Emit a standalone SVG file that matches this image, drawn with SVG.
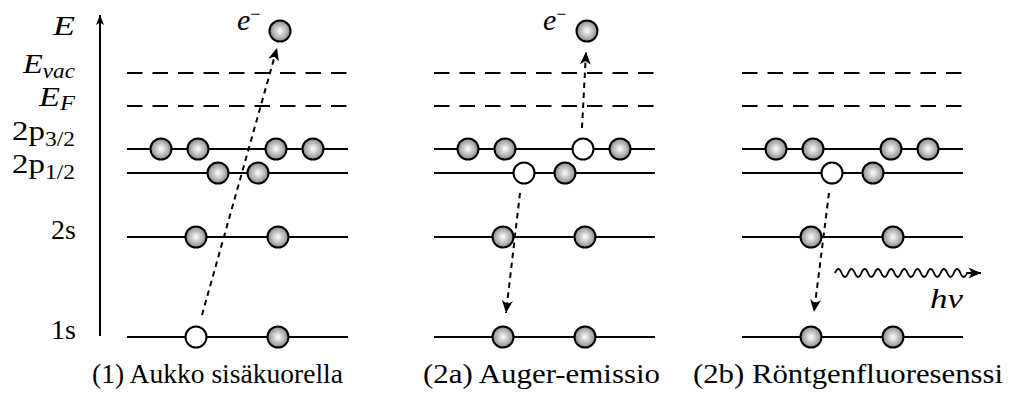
<svg xmlns="http://www.w3.org/2000/svg" width="1009" height="398" viewBox="0 0 1009 398">
  <defs>
    <radialGradient id="ball" cx="50%" cy="50%" r="50%">
      <stop offset="0" stop-color="#ffffff"/>
      <stop offset="1" stop-color="#8a8a8a"/>
    </radialGradient>
    <marker id="head" viewBox="-13 -6 14 12" refX="0" refY="0" markerWidth="14" markerHeight="12" markerUnits="userSpaceOnUse" orient="auto">
      <path d="M0,0 L-12.5,-5.5 L-9,0 L-12.5,5.5 Z" fill="#000"/>
    </marker>
    <marker id="axhead" viewBox="-11 -5 12 10" refX="0" refY="0" markerWidth="12" markerHeight="10" markerUnits="userSpaceOnUse" orient="auto">
      <path d="M0,0 L-10,-4 L-7.5,0 L-10,4 Z" fill="#000"/>
    </marker>
    <style>
      .lvl { stroke: #000; stroke-width: 2; fill: none; }
      .dash { stroke: #000; stroke-width: 2; fill: none; stroke-dasharray: 15.5 10; }
      .el { fill: url(#ball); stroke: #000; stroke-width: 2; }
      .hole { fill: #fff; stroke: #000; stroke-width: 2; }
      .move { stroke: #000; stroke-width: 2; fill: none; stroke-dasharray: 5.5 4.5; marker-end: url(#head); }
      .wave { stroke: #000; stroke-width: 1.8; fill: none; marker-end: url(#head); }
    </style>
  </defs>

  <g font-family="Liberation Serif, DejaVu Serif, serif" font-size="27" fill="#000">
  <!-- energy axis and level labels -->
  <g id="axis">
    <line x1="100" y1="336" x2="100" y2="15" stroke="#000" stroke-width="2" marker-end="url(#axhead)"/>
    <text x="75" y="35" text-anchor="end" font-style="italic" font-size="28" textLength="22" lengthAdjust="spacingAndGlyphs">E</text>
    <text x="75" y="73" text-anchor="end" font-style="italic" font-size="28" textLength="52" lengthAdjust="spacingAndGlyphs">E<tspan font-size="20" dy="5">vac</tspan></text>
    <text x="75" y="106" text-anchor="end" font-style="italic" font-size="28" textLength="36" lengthAdjust="spacingAndGlyphs">E<tspan font-size="20" dy="4">F</tspan></text>
    <text x="75" y="140" text-anchor="end" font-size="28" textLength="63" lengthAdjust="spacingAndGlyphs">2p<tspan font-size="20" dy="6">3/2</tspan></text>
    <text x="75" y="173" text-anchor="end" font-size="28" textLength="63" lengthAdjust="spacingAndGlyphs">2p<tspan font-size="20" dy="6">1/2</tspan></text>
    <text x="76" y="239" text-anchor="end" font-size="28">2s</text>
    <text x="76" y="339" text-anchor="end" font-size="28">1s</text>
  </g>

  <!-- (1) core hole -->
  <g id="panel1">
    <line class="dash" x1="127" y1="73" x2="348" y2="73"/>
    <line class="dash" x1="127" y1="106" x2="348" y2="106"/>
    <line class="lvl" x1="127" y1="149" x2="348" y2="149"/>
    <line class="lvl" x1="127" y1="173" x2="348" y2="173"/>
    <line class="lvl" x1="127" y1="237" x2="348" y2="237"/>
    <line class="lvl" x1="127" y1="337" x2="348" y2="337"/>
    <circle class="el" cx="161" cy="149" r="10.5"/>
    <circle class="el" cx="198" cy="149" r="10.5"/>
    <circle class="el" cx="276" cy="149" r="10.5"/>
    <circle class="el" cx="313" cy="149" r="10.5"/>
    <circle class="el" cx="218" cy="173" r="10.5"/>
    <circle class="el" cx="258" cy="173" r="10.5"/>
    <circle class="el" cx="196" cy="237" r="10.5"/>
    <circle class="el" cx="278" cy="237" r="10.5"/>
    <circle class="hole" cx="196" cy="337" r="10.5"/>
    <circle class="el" cx="278" cy="337" r="10.5"/>
    <circle class="el" cx="280" cy="31" r="10.5"/>
    <text x="237" y="30" font-style="italic" font-size="30">e<tspan font-size="18" font-style="normal" dy="-10">−</tspan></text>
    <text x="92" y="383" font-size="28" textLength="251" lengthAdjust="spacingAndGlyphs">(1) Aukko sisäkuorella</text>
  </g>

  <!-- (2a) Auger emission -->
  <g id="panel2">
    <line class="dash" x1="434" y1="73" x2="655" y2="73"/>
    <line class="dash" x1="434" y1="106" x2="655" y2="106"/>
    <line class="lvl" x1="434" y1="149" x2="655" y2="149"/>
    <line class="lvl" x1="434" y1="173" x2="655" y2="173"/>
    <line class="lvl" x1="434" y1="237" x2="655" y2="237"/>
    <line class="lvl" x1="434" y1="337" x2="655" y2="337"/>
    <circle class="el" cx="468" cy="149" r="10.5"/>
    <circle class="el" cx="505" cy="149" r="10.5"/>
    <circle class="hole" cx="583" cy="149" r="10.5"/>
    <circle class="el" cx="620" cy="149" r="10.5"/>
    <circle class="hole" cx="524" cy="173" r="10.5"/>
    <circle class="el" cx="565" cy="173" r="10.5"/>
    <circle class="el" cx="503" cy="237" r="10.5"/>
    <circle class="el" cx="585" cy="237" r="10.5"/>
    <circle class="el" cx="503" cy="337" r="10.5"/>
    <circle class="el" cx="585" cy="337" r="10.5"/>
    <circle class="el" cx="587" cy="31" r="10.5"/>
    <text x="543" y="30" font-style="italic" font-size="30">e<tspan font-size="18" font-style="normal" dy="-10">−</tspan></text>
    <text x="423" y="383" font-size="28" textLength="237" lengthAdjust="spacingAndGlyphs">(2a) Auger-emissio</text>
  </g>

  <!-- (2b) X-ray fluorescence -->
  <g id="panel3">
    <line class="dash" x1="742" y1="73" x2="963" y2="73"/>
    <line class="dash" x1="742" y1="106" x2="963" y2="106"/>
    <line class="lvl" x1="742" y1="149" x2="963" y2="149"/>
    <line class="lvl" x1="742" y1="173" x2="963" y2="173"/>
    <line class="lvl" x1="742" y1="237" x2="963" y2="237"/>
    <line class="lvl" x1="742" y1="337" x2="963" y2="337"/>
    <circle class="el" cx="776" cy="149" r="10.5"/>
    <circle class="el" cx="813" cy="149" r="10.5"/>
    <circle class="el" cx="891" cy="149" r="10.5"/>
    <circle class="el" cx="928" cy="149" r="10.5"/>
    <circle class="hole" cx="832" cy="173" r="10.5"/>
    <circle class="el" cx="873" cy="173" r="10.5"/>
    <circle class="el" cx="811" cy="237" r="10.5"/>
    <circle class="el" cx="893" cy="237" r="10.5"/>
    <circle class="el" cx="811" cy="337" r="10.5"/>
    <circle class="el" cx="893" cy="337" r="10.5"/>
    <text x="930" y="308" font-style="italic" font-size="28" textLength="33" lengthAdjust="spacingAndGlyphs">hν</text>
    <text x="693" y="383" font-size="28" textLength="310" lengthAdjust="spacingAndGlyphs">(2b) Röntgenfluoresenssi</text>
  </g>
  </g>

  <!-- transitions -->
  <g id="connectors">
    <line class="move" x1="202" y1="315" x2="277" y2="48"/>
    <line class="move" x1="582" y1="128" x2="586" y2="52"/>
    <line class="move" x1="520" y1="193" x2="506" y2="313"/>
    <line class="move" x1="829" y1="193" x2="814" y2="312"/>
    <path class="wave" d="M835,273 q3.3,-8 6.6,0 t6.6,0 t6.6,0 t6.6,0 t6.6,0 t6.6,0 t6.6,0 t6.6,0 t6.6,0 t6.6,0 t6.6,0 t6.6,0 t6.6,0 t6.6,0 t6.6,0 t6.6,0 t6.6,0 t6.6,0 t6.6,0 t6.6,0 l14,0"/>
  </g>
</svg>
